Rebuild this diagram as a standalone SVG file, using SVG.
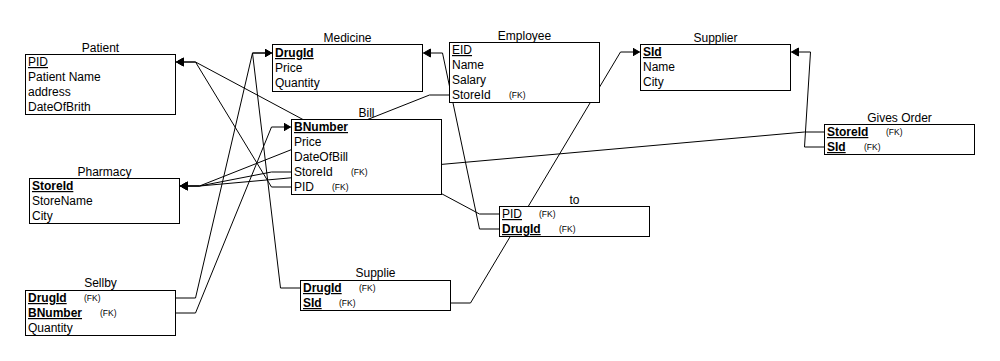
<svg xmlns="http://www.w3.org/2000/svg" width="1000" height="361" viewBox="0 0 1000 361">
  <style>
    text { font-family: "Liberation Sans", Arial, sans-serif; font-size: 12px; fill: #000; }
    .title { text-anchor: middle; }
    .pk { text-decoration: underline; }
    .b { font-weight: bold; }
    .fk { font-size: 8.5px; }
    .box { fill: #fff; stroke: #000; stroke-width: 1; }
    .conn path { fill: none; stroke: #000; stroke-width: 1; marker-end: url(#arrow); }
  </style>
  <defs>
    <marker id="arrow" markerUnits="userSpaceOnUse" markerWidth="9" markerHeight="11" refX="7" refY="5" orient="auto">
      <path d="M0,1 L7,5 L0,9 Z" fill="#000" stroke="#000" stroke-width="1"/>
    </marker>
  </defs>
  <rect width="1000" height="361" fill="#fff"/>

  <!-- relationship connectors -->
  <g id="connectors" class="conn">
    <path d="M291.5,187 H271.5 L195.5,62 H176.5"/>
    <path d="M499.5,214 H479.5 L195.5,62 H176.5"/>
    <path d="M175.5,298 H195.5 L252.5,53 H271.5"/>
    <path d="M300.5,288 H280.5 L252.5,53 H271.5"/>
    <path d="M499.5,229 H479.5 L442.5,53 H423.5"/>
    <path d="M175.5,313 H195.5 L271.5,127 H290.5"/>
    <path d="M291.5,172 H271.5 L199.5,186 H180.5"/>
    <path d="M449.5,95 H429.5 L199.5,186 H180.5"/>
    <path d="M824.5,132 H804.5 L199.5,186 H180.5"/>
    <path d="M824.5,147 H804.5 L810.5,52 H791.5"/>
    <path d="M450.5,303 H470.5 L620.5,52 H639.5"/>
  </g>

  <g id="patient">
    <text class="title" x="100.5" y="52">Patient</text>
    <rect class="box" x="25.5" y="54.5" width="150" height="60"/>
    <text class="pk" x="28" y="66">PID</text>
    <text x="28" y="81">Patient Name</text>
    <text x="28" y="96">address</text>
    <text x="28" y="111">DateOfBrith</text>
  </g>

  <g id="medicine">
    <text class="title" x="347.5" y="42">Medicine</text>
    <rect class="box" x="272.5" y="44.5" width="150" height="47"/>
    <text class="pk b" x="275" y="57">DrugId</text>
    <text x="275" y="72">Price</text>
    <text x="275" y="87">Quantity</text>
  </g>

  <g id="employee">
    <text class="title" x="524.5" y="40">Employee</text>
    <rect class="box" x="449.5" y="42.5" width="150" height="60"/>
    <text class="pk" x="452" y="54">EID</text>
    <text x="452" y="69">Name</text>
    <text x="452" y="84">Salary</text>
    <text x="452" y="99">StoreId</text>
    <text class="fk" x="509" y="98">(FK)</text>
  </g>

  <g id="supplier">
    <text class="title" x="715.5" y="42">Supplier</text>
    <rect class="box" x="640.5" y="44.5" width="150" height="46"/>
    <text class="pk b" x="643" y="56">SId</text>
    <text x="643" y="71">Name</text>
    <text x="643" y="86">City</text>
  </g>

  <g id="bill">
    <text class="title" x="366.5" y="117">Bill</text>
    <rect class="box" x="291.5" y="119.5" width="150" height="75"/>
    <text class="pk b" x="294" y="131">BNumber</text>
    <text x="294" y="146">Price</text>
    <text x="294" y="161">DateOfBill</text>
    <text x="294" y="176">StoreId</text>
    <text class="fk" x="351" y="175">(FK)</text>
    <text x="294" y="191">PID</text>
    <text class="fk" x="332" y="190">(FK)</text>
  </g>

  <g id="pharmacy">
    <text class="title" x="104.5" y="176">Pharmacy</text>
    <rect class="box" x="29.5" y="178.5" width="150" height="45"/>
    <text class="pk b" x="32" y="190">StoreId</text>
    <text x="32" y="205">StoreName</text>
    <text x="32" y="220">City</text>
  </g>

  <g id="gives-order">
    <text class="title" x="899.5" y="122">Gives Order</text>
    <rect class="box" x="824.5" y="124.5" width="150" height="30"/>
    <text class="pk b" x="827" y="136">StoreId</text>
    <text class="fk" x="886" y="135">(FK)</text>
    <text class="pk b" x="827" y="151">SId</text>
    <text class="fk" x="864" y="150">(FK)</text>
  </g>

  <g id="to">
    <text class="title" x="574.5" y="204">to</text>
    <rect class="box" x="499.5" y="206.5" width="150" height="30"/>
    <text class="pk" x="502" y="218">PID</text>
    <text class="fk" x="539" y="217">(FK)</text>
    <text class="pk b" x="502" y="233">DrugId</text>
    <text class="fk" x="559" y="232">(FK)</text>
  </g>

  <g id="sellby">
    <text class="title" x="100.5" y="287">Sellby</text>
    <rect class="box" x="25.5" y="290.5" width="150" height="45"/>
    <text class="pk b" x="28" y="302">DrugId</text>
    <text class="fk" x="84" y="301">(FK)</text>
    <text class="pk b" x="28" y="317">BNumber</text>
    <text class="fk" x="100" y="316">(FK)</text>
    <text x="28" y="332">Quantity</text>
  </g>

  <g id="supplie">
    <text class="title" x="375.5" y="277">Supplie</text>
    <rect class="box" x="300.5" y="280.5" width="150" height="30"/>
    <text class="pk b" x="303" y="292">DrugId</text>
    <text class="fk" x="359" y="291">(FK)</text>
    <text class="pk b" x="303" y="307">SId</text>
    <text class="fk" x="339" y="306">(FK)</text>
  </g>
</svg>
